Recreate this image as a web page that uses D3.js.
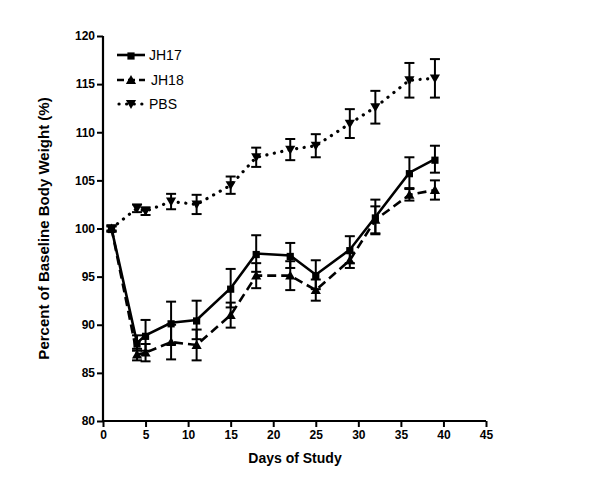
<!DOCTYPE html>
<html><head><meta charset="utf-8">
<script src="https://cdn.jsdelivr.net/npm/d3@7"></script>
<style>body{margin:0;background:#fff}svg{display:block}text{font-family:"Liberation Sans",Arial,sans-serif}</style>
</head><body><div id="chart"></div>
<script>
const days = [1, 4, 5, 8, 11, 15, 18, 22, 25, 29, 32, 36, 39];
const jh17 = [100, 88.1, 88.9, 90.2, 90.5, 93.8, 97.4, 97.2, 95.2, 97.8, 101.2, 105.8, 107.2];
const jh17Err = [0.3, 0.8, 1.6, 2.2, 2.0, 2.0, 1.9, 1.3, 1.5, 1.4, 1.8, 1.6, 1.4];
const jh18 = [100, 86.9, 87.1, 88.2, 87.9, 91.0, 95.1, 95.1, 93.6, 96.7, 100.9, 103.5, 104.0];
const jh18Err = [0.3, 0.6, 0.9, 1.8, 1.6, 1.3, 1.3, 1.5, 1.1, 0.8, 1.4, 0.6, 1.0];
const pbs = [100, 102.1, 101.8, 102.8, 102.5, 104.5, 107.4, 108.2, 108.6, 110.9, 112.6, 115.4, 115.6];
const pbsErr = [0.2, 0.4, 0.4, 0.8, 1.0, 0.9, 1.0, 1.1, 1.2, 1.5, 1.7, 1.8, 2.0];
const seriesNames = ["JH17", "JH18", "PBS"];
const xTicks = [0, 5, 10, 15, 20, 25, 30, 35, 40, 45];
const yTicks = [80, 85, 90, 95, 100, 105, 110, 115, 120];

const W = 600, H = 480;
const svg = d3.select("#chart").append("svg").attr("width", W).attr("height", H);
const x = d3.scaleLinear().domain([0, 45]).range([103, 486]);
const y = d3.scaleLinear().domain([80, 120]).range([421, 36]);

const styles = [
  {vals: jh17, err: jh17Err, dash: null, cap: "butt", shape: d3.symbolSquare, size: 52, rot: 0},
  {vals: jh18, err: jh18Err, dash: "9,5", cap: "butt", shape: d3.symbolTriangle, size: 45, rot: 0},
  {vals: pbs, err: pbsErr, dash: "0.1,7.5", cap: "round", shape: d3.symbolTriangle, size: 45, rot: 180}
];

// axes
const xAxis = svg.append("g").attr("transform", `translate(0,${y(80)})`)
  .call(d3.axisBottom(x).tickValues(xTicks).tickSize(6).tickPadding(3));
const yAxis = svg.append("g").attr("transform", `translate(${x(0)},0)`)
  .call(d3.axisLeft(y).tickValues(yTicks).tickSize(6).tickPadding(2));
[xAxis, yAxis].forEach(g => {
  g.select(".domain").attr("stroke", "#000").attr("stroke-width", 2.2)
    .attr("d", g === xAxis ? `M${x(0)},0H${x(45)}` : `M0,${y(80)}V${y(120)}`);
  g.selectAll(".tick line").attr("stroke", "#000").attr("stroke-width", 2);
  g.selectAll(".tick text").attr("font-size", 12).attr("font-weight", "bold").attr("fill", "#000")
    .style("font-family", '"Liberation Sans",Arial,sans-serif');
});

svg.append("text").attr("x", 295).attr("y", 463).attr("text-anchor", "middle")
  .attr("font-size", 14).attr("font-weight", "bold").text("Days of Study");
svg.append("text").attr("transform", `translate(49,${(y(80)+y(120))/2}) rotate(-90)`)
  .attr("text-anchor", "middle").attr("font-size", 15).attr("font-weight", "bold")
  .text("Percent of Baseline Body Weight (%)");

const line = d3.line().x((d, i) => x(days[i])).y(d => y(d));

styles.forEach((s, k) => {
  const g = svg.append("g");
  s.vals.forEach((v, i) => {
    const cx = x(days[i]), t = y(v + s.err[i]), b = y(v - s.err[i]);
    g.append("line").attr("x1", cx).attr("x2", cx).attr("y1", t).attr("y2", b).attr("stroke", "#000").attr("stroke-width", 2);
    [t, b].forEach(yy => g.append("line").attr("x1", cx - 5).attr("x2", cx + 5).attr("y1", yy).attr("y2", yy).attr("stroke", "#000").attr("stroke-width", 2));
  });
  g.append("path").attr("d", line(s.vals)).attr("fill", "none").attr("stroke", "#000")
    .attr("stroke-width", k === 2 ? 3.2 : 2.6).attr("stroke-dasharray", s.dash)
    .attr("stroke-linecap", s.cap);
  g.selectAll(".m").data(s.vals).join("path")
    .attr("transform", (d, i) => `translate(${x(days[i])},${y(d) + (s.rot ? -1 : 1)}) rotate(${s.rot})`)
    .attr("d", d3.symbol().type(s.shape).size(s.size)).attr("fill", "#000");
});

// legend
const legY = [55, 80, 104];
styles.forEach((s, k) => {
  const g = svg.append("g").attr("transform", `translate(0,${legY[k]})`);
  g.append("line").attr("x1", k === 2 ? 119 : 117).attr("x2", 145).attr("y1", 0).attr("y2", 0).attr("stroke", "#000")
    .attr("stroke-width", k === 2 ? 3.2 : 2.6).attr("stroke-dasharray", k === 1 ? "7,4" : s.dash)
    .attr("stroke-linecap", s.cap);
  g.append("path").attr("transform", `translate(131,${s.rot ? -1 : 1}) rotate(${s.rot})`)
    .attr("d", d3.symbol().type(s.shape).size(s.size)).attr("fill", "#000");
  g.append("text").attr("x", k === 1 ? 151 : 149).attr("y", 5).attr("font-size", 14).text(seriesNames[k]);
});
</script></body></html>
